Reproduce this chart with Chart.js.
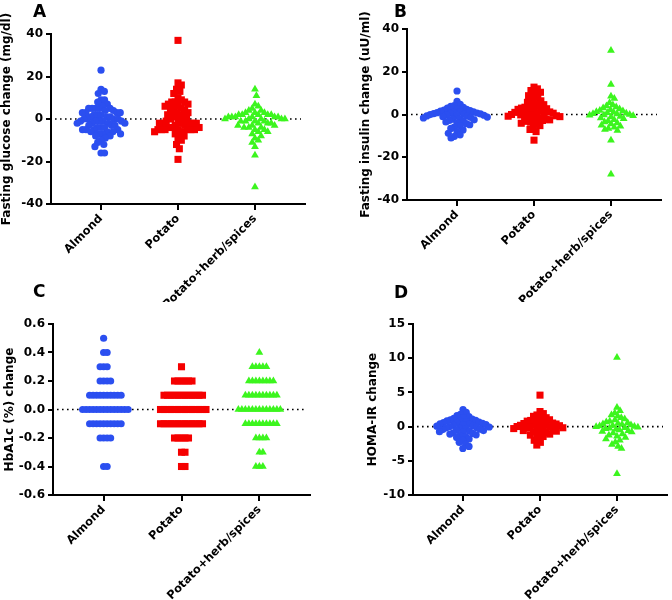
<!DOCTYPE html>
<html>
<head>
<meta charset="utf-8">
<script src="https://cdn.jsdelivr.net/npm/chart.js@4.4.1/dist/chart.umd.min.js"></script>
<style>
  html, body { margin: 0; padding: 0; background: #fff; }
  #wrap { position: relative; width: 672px; height: 600px; overflow: hidden; }
  .panel { position: absolute; }
  .letter { position: absolute; font: bold 17px "DejaVu Sans"; line-height: 17px; color: #000; }
</style>
</head>
<body>
<div id="wrap">
  <div class="panel" style="left:0;top:0;width:336px;height:302px"><canvas id="chartA"></canvas></div>
  <div class="panel" style="left:356px;top:0;width:316px;height:302px"><canvas id="chartB"></canvas></div>
  <div class="panel" style="left:0;top:300px;width:336px;height:300px"><canvas id="chartC"></canvas></div>
  <div class="panel" style="left:362px;top:300px;width:310px;height:300px"><canvas id="chartD"></canvas></div>
  <div class="letter" style="left:33px;top:3px">A</div>
  <div class="letter" style="left:394px;top:3px">B</div>
  <div class="letter" style="left:33px;top:283px">C</div>
  <div class="letter" style="left:394px;top:284px">D</div>
</div>
<script>
// groups and colours
const groups = ['Almond', 'Potato', 'Potato+herb/spices'];
const colors = ['#2b4ff0', '#f50000', '#3cf51e'];

// tick labels
const ticksGlucose = [-40, -20, 0, 20, 40];
const ticksInsulin = [-40, -20, 0, 20, 40];
const ticksHba1c = [-0.6, -0.4, -0.2, 0, 0.2, 0.4, 0.6];
const ticksHoma = [-10, -5, 0, 5, 10, 15];

// A - fasting glucose change (mg/dl)
const glucoseAlmond = [23, 14, 13, 12, 9, 9, 8, 7, 6, 5, 5, 5, 5, 5, 4, 4, 3, 3, 3, 3, 2, 2, 2, 1, 1, 1,
  0, 0, 0, 0, -1, -1, -1, -1, -1, -2, -2, -2, -2, -3, -3, -3, -4, -4, -4, -5, -5, -5, -5, -6, -6, -6,
  -7, -7, -7, -8, -8, -9, -10, -11, -12, -13, -16, -16];
const glucosePotato = [37, 17, 16, 14, 13, 12, 10, 9, 8, 8, 8, 7, 7, 6, 6, 5, 5, 4, 4, 3, 3, 2, 2, 1, 1,
  0, 0, -1, -1, -2, -2, -2, -2, -2, -2, -3, -3, -4, -4, -4, -5, -5, -5, -5, -5, -5, -5, -6, -6, -7,
  -8, -9, -10, -12, -14, -19];
const glucoseHerb = [14, 11, 7, 6, 5, 4, 4, 3, 3, 3, 2, 2, 2, 2, 2, 1, 1, 1, 1, 1, 1, 0, 0, 0, 0, 0,
  -1, -1, -1, -1, -2, -2, -2, -3, -3, -3, -4, -4, -4, -5, -5, -6, -6, -7, -8, -9, -10, -11, -13, -17, -32];

// B - fasting insulin change (uU/ml)
const insulinAlmond = [11.0, 6.2, 4.8, 4.2, 3.8, 3.4, 3.0, 2.7, 2.4, 2.1, 1.8, 1.6, 1.4, 1.2, 1.0, 0.85,
  0.7, 0.55, 0.4, 0.25, 0.1, -0.05, -0.2, -0.35, -0.5, -0.65, -0.8, -1.0, -1.2, -1.4, -1.6, -1.9, -2.2,
  -2.5, -2.8, -3.1, -3.5, -3.9, -4.3, -4.8, -5.3, -5.9, -6.5, -7.2, -8.0, -8.8, -9.5, -10.2, -11.0];
const insulinPotato = [12.8, 12.0, 11.2, 10.4, 9.6, 8.8, 8.0, 7.2, 6.4, 5.7, 5.1, 4.6, 4.2, 3.8, 3.4,
  3.0, 2.7, 2.4, 2.1, 1.8, 1.5, 1.2, 1.0, 0.8, 0.6, 0.4, 0.2, 0.0, -0.2, -0.4, -0.6, -0.8, -1.0, -1.3,
  -1.6, -1.9, -2.2, -2.5, -2.8, -3.2, -3.6, -4.1, -4.6, -5.2, -6.0, -7.0, -8.0, -12.0];
const insulinHerb = [30.0, 14.0, 8.5, 7.5, 5.5, 4.5, 4.0, 3.5, 3.0, 2.6, 2.2, 1.9, 1.6, 1.3, 1.0, 0.8,
  0.6, 0.4, 0.2, 0.0, -0.2, -0.4, -0.6, -0.9, -1.2, -1.6, -2.0, -2.5, -3.0, -3.5, -4.0, -4.5, -5.0,
  -5.5, -6.0, -6.5, -7.0, -7.5, -12.0, -28.0];

// C - HbA1c (%) change
const hba1cAlmond = [0.5, 0.4, 0.4, 0.3, 0.3, 0.3, 0.2, 0.2, 0.2, 0.2,
  0.1, 0.1, 0.1, 0.1, 0.1, 0.1, 0.1, 0.1, 0.1, 0.1,
  0, 0, 0, 0, 0, 0, 0, 0, 0, 0, 0, 0, 0, 0,
  -0.1, -0.1, -0.1, -0.1, -0.1, -0.1, -0.1, -0.1, -0.1, -0.1,
  -0.2, -0.2, -0.2, -0.2, -0.4, -0.4];
const hba1cPotato = [0.3, 0.2, 0.2, 0.2, 0.2, 0.2, 0.2,
  0.1, 0.1, 0.1, 0.1, 0.1, 0.1, 0.1, 0.1, 0.1, 0.1, 0.1, 0.1,
  0, 0, 0, 0, 0, 0, 0, 0, 0, 0, 0, 0, 0, 0,
  -0.1, -0.1, -0.1, -0.1, -0.1, -0.1, -0.1, -0.1, -0.1, -0.1, -0.1, -0.1, -0.1,
  -0.2, -0.2, -0.2, -0.2, -0.2, -0.3, -0.3, -0.4, -0.4];
const hba1cHerb = [0.4, 0.3, 0.3, 0.3, 0.3, 0.3, 0.2, 0.2, 0.2, 0.2, 0.2, 0.2, 0.2, 0.2,
  0.1, 0.1, 0.1, 0.1, 0.1, 0.1, 0.1, 0.1, 0.1, 0.1,
  0, 0, 0, 0, 0, 0, 0, 0, 0, 0, 0, 0, 0,
  -0.1, -0.1, -0.1, -0.1, -0.1, -0.1, -0.1, -0.1, -0.1, -0.1,
  -0.2, -0.2, -0.2, -0.2, -0.3, -0.3, -0.4, -0.4, -0.4];

// D - HOMA-IR change
const homaAlmond = [2.5, 2.1, 1.8, 1.6, 1.45, 1.3, 1.2, 1.1, 1.0, 0.92, 0.85, 0.78, 0.72, 0.66, 0.6,
  0.54, 0.48, 0.42, 0.36, 0.3, 0.24, 0.18, 0.12, 0.06, 0.0, -0.06, -0.12, -0.18, -0.24, -0.3, -0.37,
  -0.44, -0.51, -0.58, -0.66, -0.74, -0.82, -0.9, -1.0, -1.1, -1.2, -1.3, -1.45, -1.6, -1.8, -2.0,
  -2.3, -2.6, -2.9, -3.2];
const homaPotato = [4.6, 2.2, 1.9, 1.7, 1.5, 1.3, 1.15, 1.0, 0.9, 0.8, 0.7, 0.6, 0.52, 0.45, 0.38, 0.31,
  0.25, 0.19, 0.13, 0.07, 0.01, -0.05, -0.11, -0.17, -0.23, -0.29, -0.35, -0.42, -0.5, -0.58, -0.67,
  -0.76, -0.86, -0.97, -1.1, -1.25, -1.45, -1.7, -2.0, -2.3, -2.7];
const homaHerb = [10.1, 2.8, 2.3, 2.0, 1.7, 1.5, 1.3, 1.1, 0.95, 0.8, 0.68, 0.56, 0.46, 0.38, 0.3, 0.22,
  0.15, 0.08, 0.02, -0.04, -0.1, -0.17, -0.24, -0.32, -0.4, -0.5, -0.6, -0.7, -0.8, -0.95, -1.1, -1.25,
  -1.4, -1.6, -1.8, -2.0, -2.3, -2.6, -2.9, -3.2, -6.9];

const FONT = '"DejaVu Sans", Verdana, sans-serif';

// spread points of one column sideways (Prism-like scatter dot plot)
function swarm(ys, dx, dy) {
  const order = ys.map((y, i) => i).sort((a, b) => ys[a] - ys[b]);
  const placed = [];
  const out = new Array(ys.length);
  order.forEach(i => {
    const y = ys[i];
    const near = placed.filter(p => Math.abs(p.y - y) < dy);
    const cands = [0];
    near.forEach(p => {
      const t = (p.y - y) / dy;
      const o = dx * Math.sqrt(1 - t * t);
      cands.push(p.x + o, p.x - o);
    });
    cands.sort((a, b) => Math.abs(a) - Math.abs(b));
    const x = cands.find(c => near.every(p => {
      const u = (c - p.x) / dx, v = (y - p.y) / dy;
      return u * u + v * v >= 0.999;
    }));
    placed.push({ x, y });
    out[i] = x;
  });
  return out;
}

const swarmPlugin = {
  id: 'swarm',
  afterDatasetsUpdate(chart) {
    const xs = chart.scales.x;
    chart.data.datasets.forEach((ds, di) => {
      const pts = chart.getDatasetMeta(di).data;
      const centre = xs.getPixelForValue(di + 1);
      const offs = swarm(pts.map(p => p.y), 3.5, 7);
      pts.forEach((p, i) => { p.x = centre + offs[i]; });
    });
  }
};

const zeroLine = {
  id: 'zeroLine',
  beforeDatasetsDraw(chart) {
    const { ctx, chartArea, scales } = chart;
    const y = scales.y.getPixelForValue(0);
    ctx.save();
    ctx.strokeStyle = '#000';
    ctx.lineWidth = 1.6;
    ctx.setLineDash([1.6, 3.4]);
    ctx.beginPath();
    ctx.moveTo(chartArea.left + 4, y);
    ctx.lineTo(chartArea.right - 4, y);
    ctx.stroke();
    ctx.restore();
  }
};

const styles = [
  { pointStyle: 'circle', radius: 3.6 },
  { pointStyle: 'rect', radius: 5 },
  { pointStyle: 'triangle', radius: 4.5 }
];

function makePanel(id, box, title, series, tickVals, decimals) {
  const axisW = box.axisX - box.left;
  const xH = box.top + box.height - box.bottom;
  new Chart(document.getElementById(id), {
    type: 'scatter',
    data: {
      datasets: series.map((vals, i) => ({
        label: groups[i],
        data: vals.map(v => ({ x: i + 1, y: v })),
        pointStyle: styles[i].pointStyle,
        pointRadius: styles[i].radius,
        pointHoverRadius: styles[i].radius,
        backgroundColor: colors[i],
        borderWidth: 0
      }))
    },
    options: {
      responsive: true,
      maintainAspectRatio: false,
      animation: false,
      layout: {
        padding: { top: box.areaTop - box.top, right: box.left + box.width - box.right, left: 0, bottom: 0 }
      },
      plugins: { legend: { display: false }, tooltip: { enabled: false } },
      scales: {
        x: {
          type: 'linear',
          min: 0.35,
          max: 3.65,
          afterBuildTicks: s => { s.ticks = [1, 2, 3].map(v => ({ value: v })); },
          afterFit: s => { s.height = xH; },
          ticks: {
            callback: v => groups[v - 1],
            minRotation: 45,
            maxRotation: 45,
            color: '#000',
            padding: 2,
            font: { family: FONT, size: 11.5, weight: 'bold' }
          },
          grid: { drawOnChartArea: false, drawTicks: true, tickLength: 6, color: '#000', lineWidth: 2 },
          border: { color: '#000', width: 2 }
        },
        y: {
          min: tickVals[0],
          max: tickVals[tickVals.length - 1],
          afterBuildTicks: s => { s.ticks = tickVals.map(v => ({ value: v })); },
          afterFit: s => { s.width = axisW; },
          ticks: {
            callback: v => (Math.abs(v) < 1e-9 ? 0 : v).toFixed(decimals),
            color: '#000',
            padding: 3,
            font: { family: FONT, size: 12, weight: 'bold' }
          },
          title: {
            display: true,
            text: title,
            color: '#000',
            padding: { top: box.titlePad, bottom: 0 },
            font: { family: FONT, size: 12, weight: 'bold' }
          },
          grid: { drawOnChartArea: false, drawTicks: true, tickLength: 5, color: '#000', lineWidth: 2 },
          border: { color: '#000', width: 2 }
        }
      }
    },
    plugins: [zeroLine, swarmPlugin]
  });
}

makePanel('chartA', { left: 0, top: 0, width: 336, height: 302, axisX: 51, areaTop: 34, bottom: 204, right: 305, titlePad: 0 },
  'Fasting glucose change (mg/dl)', [glucoseAlmond, glucosePotato, glucoseHerb], ticksGlucose, 0);
makePanel('chartB', { left: 356, top: 0, width: 316, height: 302, axisX: 407, areaTop: 29, bottom: 200, right: 661, titlePad: 3 },
  'Fasting insulin change (uU/ml)', [insulinAlmond, insulinPotato, insulinHerb], ticksInsulin, 0);
makePanel('chartC', { left: 0, top: 300, width: 336, height: 300, axisX: 53, areaTop: 324, bottom: 495, right: 310, titlePad: 2.5 },
  'HbA1c (%) change', [hba1cAlmond, hba1cPotato, hba1cHerb], ticksHba1c, 1);
makePanel('chartD', { left: 362, top: 300, width: 310, height: 300, axisX: 413, areaTop: 324, bottom: 495, right: 669, titlePad: 4 },
  'HOMA-IR change', [homaAlmond, homaPotato, homaHerb], ticksHoma, 0);
</script>
</body>
</html>
